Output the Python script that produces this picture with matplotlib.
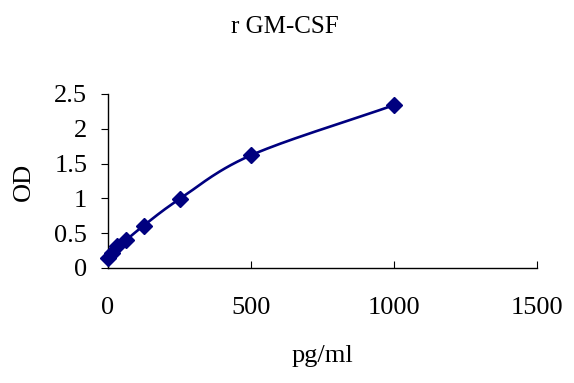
import numpy as np
import matplotlib
matplotlib.use('Agg')
import matplotlib.pyplot as plt

# standard curve values
conc = [0, 15.6, 31.25, 62.5, 125, 250, 500, 1000]
od = [0.14, 0.21, 0.32, 0.40, 0.61, 0.99, 1.62, 2.34]
xticks = [0, 500, 1000, 1500]
yticks = [0, 0.5, 1, 1.5, 2, 2.5]
ytick_labels = ['0', '0.5', '1', '1.5', '2', '2.5']

plt.rcParams['font.family'] = ['Liberation Serif', 'DejaVu Serif']
line_col = '#00007f'


def smooth_line(x, y, n=30):
    """
    Catmull-Rom curve through the points, like a smoothed spreadsheet line
    """
    x = np.asarray(x, float)
    y = np.asarray(y, float)
    px = np.concatenate([[2 * x[0] - x[1]], x, [2 * x[-1] - x[-2]]])
    py = np.concatenate([[2 * y[0] - y[1]], y, [2 * y[-1] - y[-2]]])
    xs, ys = [], []
    t = np.linspace(0, 1, n)
    for i in range(1, len(px) - 2):
        for p, out in ((px, xs), (py, ys)):
            p0, p1, p2, p3 = p[i - 1], p[i], p[i + 1], p[i + 2]
            out.extend(0.5 * (2 * p1 + (-p0 + p2) * t
                              + (2 * p0 - 5 * p1 + 4 * p2 - p3) * t ** 2
                              + (-p0 + 3 * p1 - 3 * p2 + p3) * t ** 3))
    return np.array(xs), np.array(ys)


fig = plt.figure(figsize=(5.74, 3.83), dpi=100)
ax = fig.add_axes([0.1882, 0.3003, 0.7474, 0.4543])

sx, sy = smooth_line(conc, od)
ax.plot(sx, sy, color=line_col, lw=1.9, clip_on=False, zorder=2)
ax.plot(conc, od, linestyle='none', marker='D', markersize=8.5,
        color=line_col, clip_on=False, zorder=3)

ax.set_xlim(0, 1500)
ax.set_ylim(0, 2.5)
ax.set_xticks(xticks)
ax.set_yticks(yticks)
ax.set_yticklabels(ytick_labels)

for side in ['top', 'right']:
    ax.spines[side].set_visible(False)
for side in ['left', 'bottom']:
    ax.spines[side].set_linewidth(1.0)

ax.tick_params(axis='x', direction='in', length=5, pad=21, labelsize=19)
ax.tick_params(axis='y', direction='out', length=5, pad=10, labelsize=19)

fig.text(0.497, 0.93, 'r GM-CSF', ha='center', va='center', fontsize=18)
fig.text(0.561, 0.07, 'pg/ml', ha='center', va='center', fontsize=19)
fig.text(0.042, 0.525, 'OD', ha='center', va='center', rotation=90, fontsize=19)

plt.savefig('out.png', dpi=100)
